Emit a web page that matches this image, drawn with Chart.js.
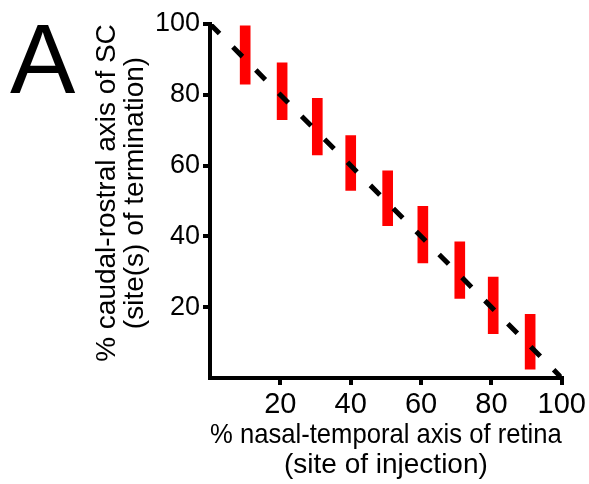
<!DOCTYPE html>
<html>
<head>
<meta charset="utf-8">
<script src="https://cdn.jsdelivr.net/npm/chart.js@4"></script>
<style>
    html, body { margin: 0; padding: 0; background: #fff; }
    #wrap { width: 589px; height: 484px; }
</style>
</head>
<body>
<div id="wrap"><canvas id="chart" width="589" height="484"></canvas></div>
<script>
// Injection site along the retina (%) and the span of termination in the SC (%)
const injectionSites = [10, 20.5, 30.5, 40, 50.5, 60.5, 71, 80.5, 91];
const terminationLow = [83, 73, 63, 53, 43, 32.5, 22.5, 12.5, 2.5];
const terminationHigh = [99.5, 89, 79, 68.5, 58.5, 48.5, 38.5, 28.5, 18];

// Ideal topographic mapping
const diagonalX = [0, 100];
const diagonalY = [100, 0];

const tickValues = [20, 40, 60, 80, 100];

const FONT = "'Liberation Sans', Arial, sans-serif";
Chart.defaults.font.family = FONT;
Chart.defaults.color = '#000';

// Panel letter and two-line y title
const panelText = {
    id: 'panelText',
    afterDraw(chart) {
        const ctx = chart.ctx;
        ctx.save();
        ctx.fillStyle = '#000';
        ctx.font = `98px ${FONT}`;
        ctx.textAlign = 'left';
        ctx.textBaseline = 'alphabetic';
        ctx.fillText('A', 10, 93);

        ctx.translate(107.5, 193);
        ctx.rotate(-Math.PI / 2);
        ctx.font = `28px ${FONT}`;
        ctx.textAlign = 'center';
        ctx.textBaseline = 'middle';
        ctx.fillText('% caudal-rostral axis of SC', 0, 0);
        ctx.fillText('(site(s) of termination)', 0, 28);
        ctx.restore();
    }
};

const axisStyle = (fontSize) => ({
    type: 'linear',
    min: 0,
    max: 100,
    offset: false,
    afterBuildTicks: scale => {
        scale.ticks = tickValues.map(v => ({ value: v }));
    },
    border: { display: true, color: '#000', width: 4 },
    grid: {
        offset: false,
        drawOnChartArea: false,
        drawTicks: true,
        tickLength: 7,
        tickWidth: 4,
        tickColor: '#000',
        lineWidth: 4,
        color: '#000'
    },
    ticks: {
        padding: 3,
        color: '#000',
        font: { size: fontSize }
    }
});

const xAxis = axisStyle(29);
xAxis.position = 'bottom';
xAxis.afterFit = scale => { scale.height = 106; };
xAxis.title = {
    display: true,
    text: ['% nasal-temporal axis of retina', '(site of injection)'],
    color: '#000',
    font: { size: 28, lineHeight: '30px' },
    padding: { top: 0, bottom: 4 }
};

const yAxis = axisStyle(27);
yAxis.position = 'left';
yAxis.afterFit = scale => { scale.width = 210; };

new Chart(document.getElementById('chart'), {
    type: 'bar',
    data: {
        datasets: [
            {
                type: 'line',
                data: diagonalX.map((x, i) => ({ x, y: diagonalY[i] })),
                borderColor: '#000',
                borderWidth: 5,
                borderDash: [13.5, 19],
                pointRadius: 0,
                fill: false,
                order: 0
            },
            {
                type: 'bar',
                data: injectionSites.map((x, i) => ({ x, y: [terminationLow[i], terminationHigh[i]] })),
                backgroundColor: '#ff0000',
                borderWidth: 0,
                barThickness: 10,
                order: 1
            }
        ]
    },
    options: {
        responsive: false,
        animation: false,
        layout: { padding: { left: 0, right: 22, top: 24, bottom: 0 } },
        plugins: {
            legend: { display: false },
            tooltip: { enabled: false }
        },
        scales: { x: xAxis, y: yAxis }
    },
    plugins: [panelText]
});
</script>
</body>
</html>
